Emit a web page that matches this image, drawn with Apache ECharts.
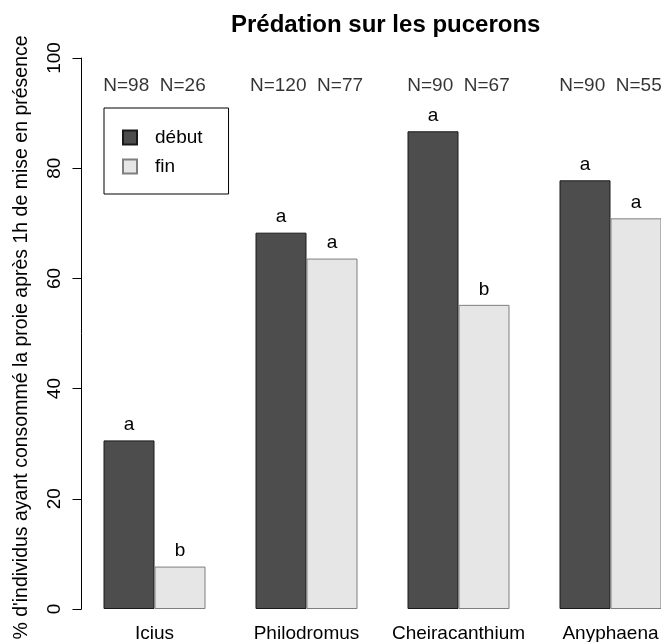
<!DOCTYPE html>
<html>
<head>
<meta charset="utf-8">
<script src="https://cdn.jsdelivr.net/npm/echarts@6/dist/echarts.min.js"></script>
<style>html,body{margin:0;padding:0;background:#fff}#c{width:661px;height:642px}</style>
</head>
<body>
<div id="c"></div>
<script>
const categories = ['Icius', 'Philodromus', 'Cheiracanthium', 'Anyphaena'];
const debut = [30.6, 68.3, 86.7, 77.8];
const fin = [7.7, 63.6, 55.2, 70.9];
const nDebut = [98, 120, 90, 90];
const nFin = [26, 77, 67, 55];
const lettersDebut = ['a', 'a', 'a', 'a'];
const lettersFin = ['b', 'a', 'b', 'a'];
const yTicks = [0, 20, 40, 60, 80, 100];
const nLabelLevel = 95;

const FONT = '"Liberation Sans", Arial, sans-serif';
const FS = 19;
const chart = echarts.init(document.getElementById('c'), null, {renderer: 'canvas'});
chart.setOption({
  animation: false,
  backgroundColor: '#fff',
  textStyle: {fontFamily: FONT},
  title: {
    text: 'Prédation sur les pucerons',
    left: 226, top: 8,
    textStyle: {fontSize: 24, fontWeight: 'bold', color: '#000', fontFamily: FONT}
  },
  legend: {
    data: ['début', 'fin'],
    orient: 'vertical',
    left: 104, top: 108,
    padding: [20, 26, 18, 18],
    itemWidth: 14, itemHeight: 14, itemGap: 10,
    icon: 'rect',
    borderColor: '#000', borderWidth: 1, borderRadius: 0,
    textStyle: {fontSize: FS, color: '#000', lineHeight: 16, padding: [0, 0, 0, 13], fontFamily: FONT}
  },
  grid: {left: 78.5, width: 608, top: 58, bottom: 33, outerBoundsMode: 'none'},
  xAxis: {
    type: 'category',
    data: categories,
    axisLine: {show: false},
    axisTick: {show: false},
    axisLabel: {fontSize: FS, color: '#000', margin: 15, interval: 0, fontFamily: FONT},
    splitLine: {show: false}
  },
  yAxis: {
    type: 'value',
    min: yTicks[0], max: yTicks[yTicks.length - 1], interval: 20,
    offset: -3,
    name: "% d'individus ayant consommé la proie après 1h de mise en présence",
    nameLocation: 'middle',
    nameGap: 50,
    nameRotate: 90,
    nameTextStyle: {fontSize: 19.5, color: '#000', fontFamily: FONT, padding: [0, 8, 0, 0]},
    axisLine: {show: true, lineStyle: {color: '#000', width: 1}},
    axisTick: {show: true, length: 9, lineStyle: {color: '#000'}},
    axisLabel: {fontSize: FS, color: '#000', rotate: 90, margin: 17, fontFamily: FONT},
    splitLine: {show: false}
  },
  series: [
    {
      name: 'début', type: 'bar', data: debut,
      barWidth: 51, barGap: '0%',
      itemStyle: {color: '#4d4d4d', borderColor: '#1a1a1a', borderWidth: 1},
      label: {show: true, position: 'top', distance: 6, fontSize: FS, color: '#000',
        formatter: p => lettersDebut[p.dataIndex], fontFamily: FONT}
    },
    {
      name: 'fin', type: 'bar', data: fin,
      barWidth: 51, barGap: '0%',
      itemStyle: {color: '#e6e6e6', borderColor: '#7f7f7f', borderWidth: 1},
      label: {show: true, position: 'top', distance: 6, fontSize: FS, color: '#000',
        formatter: p => lettersFin[p.dataIndex], fontFamily: FONT}
    },
    {
      name: 'N', type: 'scatter', symbolSize: 0,
      data: categories.map((c, i) => [c, nLabelLevel]),
      label: {show: true, position: 'inside', fontSize: FS, color: '#000', fontFamily: FONT,
        formatter: p => 'N=' + nDebut[p.dataIndex] + '  N=' + nFin[p.dataIndex]},
      silent: true
    }
  ]
});
</script>
</body>
</html>
